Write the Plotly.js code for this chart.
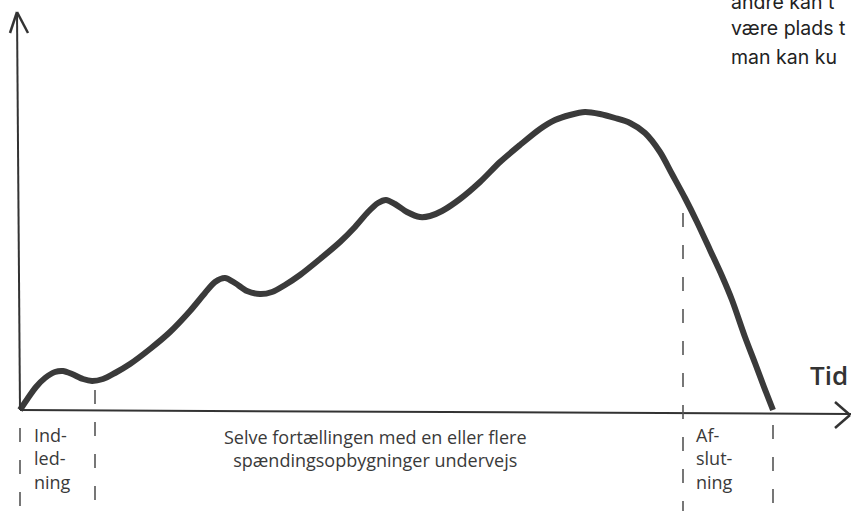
<!DOCTYPE html>
<html>
<head>
<meta charset="utf-8">
<script src="https://cdn.plot.ly/plotly-3.0.1.min.js"></script>
<style>html,body{margin:0;padding:0;background:#fff;}#chart{width:851px;height:511px;}</style>
</head>
<body>
<div id="chart"></div>
<script>
// Tension curve of a story over time (hand-drawn shape)
const time = [0, 8, 16, 25, 35, 43, 52, 63, 72, 83, 95, 110, 130, 150, 170, 185, 195, 205, 215, 227, 240, 252, 265, 280, 300, 320, 335, 348, 358, 366, 375, 387, 400, 410, 422, 440, 460, 480, 500, 520, 535, 550, 565, 580, 595, 610, 625, 640, 652, 665, 677, 690, 702, 712, 725, 735, 744, 753];
const tension = [0, 12, 23, 32, 38, 39, 36, 31, 29, 31, 37, 46, 61, 78, 99, 117, 128, 132, 127, 119, 116, 118, 125, 135, 151, 168, 183, 198, 207, 210, 206, 198, 193, 194, 199, 211, 228, 248, 265, 281, 290, 295, 298, 296, 292, 287, 277, 258, 236, 212, 188, 160, 134, 110, 73, 47, 23, 0];

// Phase boundaries (time positions of the dashed separators)
const phaseBounds = [0, 75, 663, 753];
const phaseDashTop = [-18, 20, 197, -15];
// Phase labels
const phaseLabels = ["Ind-<br>led-<br>ning", "Selve fortællingen med en eller flere<br>spændingsopbygninger undervejs", "Af-<br>slut-<br>ning"];
const axisLabel = "Tid";
// Neighbouring page text, visible part only (cut by the picture's edge)
const sideText = ["andre kan t", "være plads t", "man kan ku"];

const shapes = [];
// y axis with arrow
shapes.push({type:"line", xref:"x", yref:"y", x0:0, y0:0, x1:-3, y1:398, line:{color:"#333", width:2}});
shapes.push({type:"line", xref:"x", yref:"y", x0:-3, y0:398, x1:-10, y1:377, line:{color:"#333", width:2.5}});
shapes.push({type:"line", xref:"x", yref:"y", x0:-3, y0:398, x1:8, y1:377, line:{color:"#333", width:2.5}});
// x axis with arrow
shapes.push({type:"line", xref:"x", yref:"y", x0:0, y0:0, x1:831, y1:-4, line:{color:"#333", width:2}});
shapes.push({type:"line", xref:"x", yref:"y", x0:815, y0:8, x1:830, y1:-5, line:{color:"#333", width:2.5}});
shapes.push({type:"line", xref:"x", yref:"y", x0:815, y0:-18, x1:830, y1:-5, line:{color:"#333", width:2.5}});
// dashed separators
phaseBounds.forEach((b, i) => {
  shapes.push({type:"line", xref:"x", yref:"y", x0:b, x1:b, y0:phaseDashTop[i], y1:-105,
    line:{color:"#555", width:1.6, dash:"14px,18px"}});
});

const annotations = [];
const labelFont = {family:"Open Sans, sans-serif", size:18, color:"#3a3a3a"};
const labelX = [12, 355, 674];
const labelY = [-48, -38, -48];
phaseLabels.forEach((t, i) => annotations.push({x:labelX[i], y:labelY[i], xref:"x", yref:"y", text:t, showarrow:false,
  xanchor: i === 1 ? "center" : "left", yanchor:"middle", align: i === 1 ? "center" : "left", font:labelFont}));
annotations.push({x:788, y:35, xref:"x", yref:"y", text:axisLabel, showarrow:false, xanchor:"left", yanchor:"middle",
  font:{family:"Open Sans, sans-serif", size:26, color:"#333", weight:600}});
const sideY = [0.996, 0.945, 0.888];
sideText.forEach((t, i) => {
  annotations.push({x:709, y:sideY[i], xref:"x", yref:"paper", text:t, showarrow:false, xanchor:"left", yanchor:"middle",
    font:{family:"Inter, sans-serif", size:19.5, color:"#222"}});
});

const trace = {x: time, y: tension, type:"scatter", mode:"lines",
  line:{color:"#3a3a3a", width:6, shape:"spline", smoothing:0.8}, hoverinfo:"skip"};

const layout = {
  width:851, height:511, margin:{l:0, r:0, t:0, b:0},
  paper_bgcolor:"#fff", plot_bgcolor:"#fff", showlegend:false,
  xaxis:{range:[-20, 831], visible:false, fixedrange:true},
  yaxis:{range:[-101, 410], visible:false, fixedrange:true},
  shapes: shapes, annotations: annotations
};
Plotly.newPlot("chart", [trace], layout, {staticPlot:true, displayModeBar:false});
</script>
</body>
</html>
